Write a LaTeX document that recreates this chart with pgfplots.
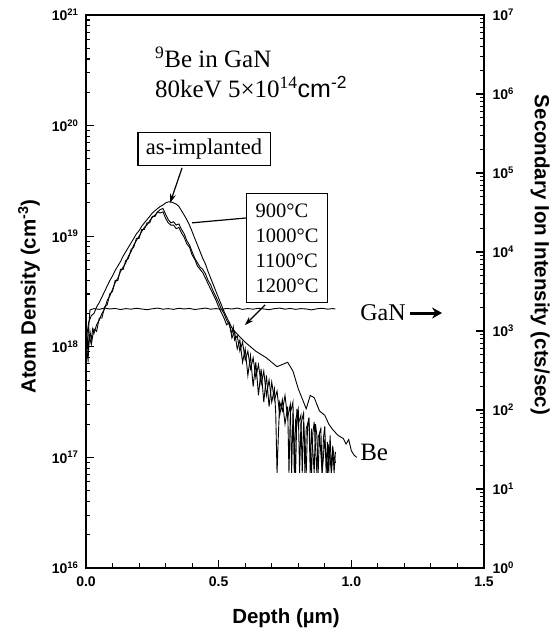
\documentclass[border=0pt]{standalone}
\usepackage{fontspec}
\setmainfont{Liberation Serif}
\setsansfont{Liberation Sans}
\usepackage{pgfplots}
\usepackage{pgfplotstable}
\pgfplotsset{compat=1.18}
\usetikzlibrary{arrows.meta}

\pgfplotstableread{
d y
0.000 1.12e18
0.010 1.66e18
0.020 1.91e18
0.030 2.00e18
0.040 2.29e18
0.050 2.51e18
0.060 2.82e18
0.070 3.16e18
0.080 3.55e18
0.090 3.98e18
0.100 4.37e18
0.110 4.90e18
0.120 5.37e18
0.130 5.89e18
0.140 6.61e18
0.150 7.24e18
0.160 7.94e18
0.170 8.71e18
0.180 9.55e18
0.190 1.05e19
0.200 1.12e19
0.210 1.23e19
0.220 1.32e19
0.230 1.41e19
0.240 1.51e19
0.250 1.62e19
0.260 1.70e19
0.270 1.78e19
0.280 1.86e19
0.290 1.91e19
0.300 2.00e19
0.310 2.04e19
0.320 2.04e19
0.330 2.00e19
0.340 1.95e19
0.350 1.86e19
0.360 1.70e19
0.370 1.55e19
0.380 1.41e19
0.390 1.26e19
0.400 1.10e19
0.410 9.55e18
0.420 8.32e18
0.430 7.24e18
0.440 6.31e18
0.450 5.62e18
0.460 4.79e18
0.470 4.17e18
0.480 3.63e18
0.490 3.16e18
0.500 2.75e18
0.510 2.40e18
0.520 2.09e18
0.530 1.86e18
0.540 1.66e18
0.550 1.48e18
0.560 1.38e18
0.580 1.23e18
0.600 1.10e18
0.620 1.00e18
0.640 9.12e17
0.660 8.51e17
0.680 7.94e17
0.700 7.24e17
0.720 6.61e17
0.740 6.92e17
0.760 7.24e17
0.780 6.03e17
0.800 4.17e17
0.820 3.16e17
0.830 2.75e17
0.845 3.63e17
0.860 3.47e17
0.880 2.63e17
0.900 2.40e17
0.915 2.00e17
0.930 1.78e17
0.950 1.58e17
0.970 1.48e17
0.980 1.32e17
0.990 1.45e17
1.000 1.15e17
1.010 1.05e17
1.020 1.00e17
}\asimpl

\pgfplotstableread{
d y
0.000 8.32e17
0.005 1.20e18
0.010 1.00e18
0.015 1.38e18
0.020 1.15e18
0.025 1.45e18
0.030 1.32e18
0.040 1.58e18
0.050 1.74e18
0.060 2.00e18
0.070 2.19e18
0.080 2.63e18
0.090 2.88e18
0.100 3.31e18
0.110 3.80e18
0.120 4.17e18
0.130 4.79e18
0.140 5.25e18
0.150 5.75e18
0.160 6.61e18
0.170 7.24e18
0.180 8.32e18
0.190 9.12e18
0.200 1.00e19
0.210 1.10e19
0.220 1.20e19
0.230 1.26e19
0.240 1.38e19
0.250 1.48e19
0.260 1.55e19
0.270 1.66e19
0.280 1.74e19
0.290 1.78e19
0.300 1.58e19
0.310 1.41e19
0.320 1.32e19
0.330 1.35e19
0.340 1.26e19
0.350 1.29e19
0.360 1.15e19
0.370 1.05e19
0.380 9.12e18
0.390 8.32e18
0.400 7.24e18
0.410 6.31e18
0.420 5.75e18
0.430 5.25e18
0.440 5.01e18
0.450 4.57e18
0.460 3.98e18
0.470 3.63e18
0.480 3.16e18
0.490 2.82e18
0.500 2.51e18
0.510 2.19e18
0.520 2.00e18
0.530 1.74e18
0.540 1.58e18
0.550 1.32e18
0.555 1.51e18
0.560 1.15e18
0.570 1.26e18
0.580 9.12e17
0.590 1.10e18
0.600 7.59e17
0.610 9.12e17
0.620 6.31e17
0.630 7.94e17
0.640 5.25e17
0.650 6.92e17
0.660 4.57e17
0.670 6.03e17
0.680 3.63e17
0.690 5.01e17
0.700 3.16e17
0.710 4.17e17
0.715 2.51e17
0.720 7.24e16
0.725 1.58e17
0.730 3.16e17
0.740 2.63e17
0.750 3.63e17
0.760 2.29e17
0.770 3.02e17
0.775 7.24e16
0.780 2.51e17
0.790 7.24e16
0.795 2.75e17
0.800 2.00e17
0.810 2.40e17
0.815 7.24e16
0.820 2.09e17
0.830 7.24e16
0.835 1.91e17
0.840 2.29e17
0.845 7.24e16
0.850 1.82e17
0.860 7.24e16
0.865 2.00e17
0.870 1.58e17
0.875 7.24e16
0.880 1.66e17
0.890 7.24e16
0.895 1.51e17
0.900 1.91e17
0.905 7.24e16
0.910 1.38e17
0.915 7.24e16
0.920 1.58e17
0.925 7.24e16
0.930 1.26e17
0.935 7.24e16
0.940 1.12e17
}\annealA

\pgfplotstableread{
d y
0.000 1.00e18
0.008 7.59e17
0.012 1.26e18
0.020 1.05e18
0.030 1.45e18
0.040 1.38e18
0.050 1.82e18
0.060 1.82e18
0.070 2.29e18
0.080 2.40e18
0.090 3.02e18
0.100 3.16e18
0.110 3.98e18
0.120 3.98e18
0.130 5.01e18
0.140 5.01e18
0.150 6.03e18
0.160 6.31e18
0.170 7.59e18
0.180 7.94e18
0.190 9.55e18
0.200 9.55e18
0.210 1.15e19
0.220 1.15e19
0.230 1.32e19
0.240 1.32e19
0.250 1.51e19
0.260 1.51e19
0.270 1.66e19
0.280 1.62e19
0.290 1.66e19
0.300 1.45e19
0.310 1.32e19
0.320 1.26e19
0.330 1.26e19
0.340 1.17e19
0.350 1.20e19
0.360 1.07e19
0.370 9.77e18
0.380 8.51e18
0.390 7.94e18
0.400 6.76e18
0.410 6.17e18
0.420 5.37e18
0.430 5.01e18
0.440 4.68e18
0.450 4.17e18
0.460 3.72e18
0.470 3.31e18
0.480 2.95e18
0.490 2.63e18
0.500 2.29e18
0.510 2.04e18
0.520 1.82e18
0.530 1.58e18
0.540 1.66e18
0.550 1.20e18
0.560 1.38e18
0.570 9.55e17
0.580 1.15e18
0.590 7.24e17
0.600 9.55e17
0.610 5.50e17
0.620 8.32e17
0.630 4.37e17
0.640 7.24e17
0.650 3.63e17
0.660 6.31e17
0.670 3.16e17
0.680 5.50e17
0.690 2.88e17
0.700 4.79e17
0.710 3.31e17
0.720 3.98e17
0.730 2.40e17
0.740 3.31e17
0.750 2.00e17
0.760 2.88e17
0.765 7.24e16
0.770 2.51e17
0.780 3.16e17
0.785 7.24e16
0.790 2.19e17
0.800 2.75e17
0.805 7.24e16
0.810 2.00e17
0.820 2.51e17
0.825 7.24e16
0.830 1.82e17
0.840 2.19e17
0.850 7.24e16
0.855 1.66e17
0.860 2.09e17
0.870 7.24e16
0.875 1.51e17
0.885 1.82e17
0.890 7.24e16
0.900 1.45e17
0.910 7.24e16
0.915 1.32e17
0.925 7.24e16
0.930 1.20e17
0.940 8.91e16
}\annealB

\pgfplotstableread{
d y
0.000 3.0e2
0.008 9.0e2
0.015 1.85e3
0.03 1.92e3
0.05 1.88e3
0.07 1.95e3
0.09 1.90e3
0.11 1.93e3
0.13 1.87e3
0.15 1.92e3
0.17 1.89e3
0.19 1.94e3
0.21 1.90e3
0.23 1.86e3
0.25 1.91e3
0.27 1.95e3
0.29 1.89e3
0.31 1.92e3
0.33 1.88e3
0.35 1.94e3
0.37 1.90e3
0.39 1.93e3
0.41 1.87e3
0.43 1.91e3
0.45 1.95e3
0.47 1.89e3
0.49 1.92e3
0.51 1.88e3
0.53 1.93e3
0.55 1.90e3
0.57 1.95e3
0.59 1.88e3
0.61 1.92e3
0.63 1.89e3
0.65 1.94e3
0.67 1.90e3
0.69 1.86e3
0.71 1.92e3
0.73 1.95e3
0.75 1.89e3
0.77 1.93e3
0.79 1.88e3
0.81 1.92e3
0.83 1.90e3
0.85 1.85e3
0.87 1.91e3
0.89 1.94e3
0.91 1.89e3
0.93 1.92e3
0.94 1.90e3
}\gan

\pgfplotsset{
  common/.style={
    scale only axis, width=398pt, height=553pt,
    xmin=0, xmax=1.5,
    tick align=inside,
    major tick length=8pt, minor tick length=4.5pt,
    every tick/.style={black, line width=1.1pt},
    axis line style={line width=1.6pt,-},
    ticklabel style={font=\fontsize{14}{14}\selectfont\sffamily\bfseries},
    yticklabel={\pgfmathtruncatemacro\ex{round(\tick/2.302585093)}10\textsuperscript{\fontsize{9.5}{9.5}\selectfont\ex}},
    label style={font=\fontsize{20.5}{20.5}\selectfont\sffamily\bfseries},
  }
}

\begin{document}
\begin{tikzpicture}
\useasboundingbox (-86pt,-63pt) rectangle (464pt,568pt);
\begin{axis}[
  ymode=log,
  common,
  ymin=1e16, ymax=1e21,
  xtick={0,0.5,1,1.5}, xticklabels={0.0,0.5,1.0,1.5},
  minor x tick num=4,
  xtick pos=bottom, ytick pos=left,
  xticklabel style={yshift=-5pt},
  yticklabel style={xshift=-4pt},
  xlabel={Depth (µm)}, ylabel={Atom Density (cm\textsuperscript{-3})},
  xlabel style={at={(axis description cs:0.5025,-0.0904)},anchor=center},
  ylabel style={at={(axis description cs:-0.143,0.491)},anchor=center},
]
\addplot[black, line width=0.9pt] table[x=d,y=y]{\asimpl};
\addplot[black, line width=0.9pt] table[x=d,y=y]{\annealA};
\addplot[black, line width=0.9pt] table[x=d,y=y]{\annealB};

\node[anchor=base west, inner sep=0pt, font=\fontsize{25}{25}\selectfont] at (axis cs:0.260,3.32e20) {\textsuperscript{9}Be in GaN};
\node[anchor=base west, inner sep=0pt, font=\fontsize{25}{25}\selectfont] at (axis cs:0.260,1.78e20) {80keV 5×10\textsuperscript{14}{\sffamily cm\textsuperscript{-2}}};

\node[draw, fill=white, line width=1.2pt, font=\fontsize{22.5}{22.5}\selectfont, inner xsep=8pt, inner ysep=6pt] at (axis cs:0.445,6.14e19) {as-implanted};
\draw[line width=1.2pt, -{Stealth[length=9pt,width=6pt]}] (axis cs:0.362,4.14e19) -- (axis cs:0.317,2.0e19);

\node[draw, fill=white, line width=1.2pt, align=left, font=\fontsize{20.5}{25}\selectfont, inner xsep=9pt, inner ysep=10pt] at (axis cs:0.758,7.83e18) {900°C\\1000°C\\1100°C\\1200°C};
\draw[line width=1.2pt] (axis cs:0.603,1.46e19) -- (axis cs:0.40,1.32e19);
\draw[line width=1.2pt, -{Stealth[length=9pt,width=6pt]}] (axis cs:0.675,2.39e18) -- (axis cs:0.599,1.57e18);

\node[anchor=west, inner sep=0pt, font=\fontsize{24}{24}\selectfont] at (axis cs:1.033,2.02e18) {GaN};
\draw[line width=3pt, -{Stealth[length=10pt,width=11pt]}] (axis cs:1.222,2.02e18) -- (axis cs:1.342,2.02e18);
\node[anchor=west, inner sep=0pt, font=\fontsize{25}{25}\selectfont] at (axis cs:1.033,1.10e17) {Be};
\end{axis}

\begin{axis}[
  ymode=log,
  common,
  ymin=1, ymax=1e7,
  axis x line=none, axis y line*=right,
  yticklabel style={xshift=5pt},
  ylabel={Secondary Ion Intensity (cts/sec)},
  ylabel style={at={(axis description cs:1.141,0.566)},anchor=center,rotate=180},
]
\addplot[black, line width=0.9pt] table[x=d,y=y]{\gan};
\end{axis}
\end{tikzpicture}
\end{document}
